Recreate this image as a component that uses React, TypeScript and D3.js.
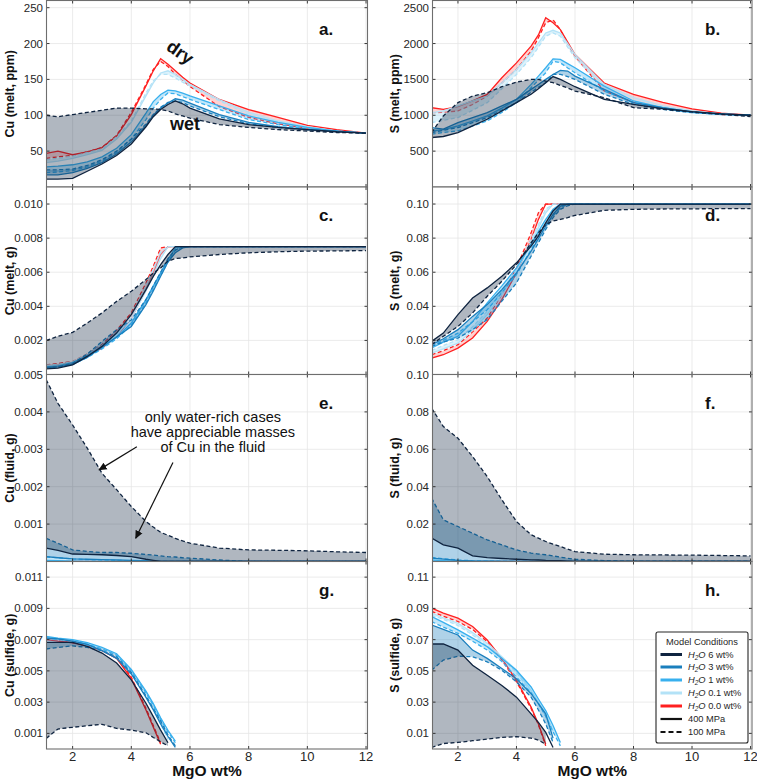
import React from 'react';
import * as d3 from 'd3';

// MgO (wt%) steps shared by the melt and fluid runs
const MGO = [1.1, 1.5, 2, 2.5, 3, 3.5, 4, 4.5, 4.75, 5, 5.25, 5.5, 5.75, 6, 7, 8, 9, 10, 11, 12];
// sulfide runs stop once the sulfide is used up
const MGO_SULF = [1.1, 1.5, 2, 2.5, 3, 3.5, 4, 4.5, 4.75, 5, 5.25, 5.5];

const X_TICKS = [2, 4, 6, 8, 10, 12];

// water contents, drawn dry first so the wet runs sit on top
const WATER = ['0.0', '0.1', '1', '3', '6'];
const LEGEND_WATER = ['6', '3', '1', '0.1', '0.0'];
const WATER_COLOR: Record<string, string> = {
  '6': '#0f2440',
  '3': '#1a7fbd',
  '1': '#38b0ee',
  '0.1': '#b3e2f7',
  '0.0': '#ff2020',
};
const WATER_FILL_OPACITY: Record<string, number> = { '6': 0.33, '3': 0.35, '1': 0.3, '0.1': 0.45, '0.0': 0.2 };

type Run = (number | null)[];
// each entry: [400 MPa, 100 MPa]
type Runs = Record<string, [Run, Run]>;

const CU_MELT_PPM: Runs = {
  '6': [
    [11, 11, 12, 22, 32, 44, 60, 84, 98, 108, 115, 120, 116, 110, 95, 87, 83, 80, 77, 75],
    [100, 98, 101, 104, 107, 110, 110, 109, 109, 108, 106, 102, 99, 96, 87, 83, 80, 78, 76, 75],
  ],
  '3': [
    [17, 17, 20, 26, 34, 46, 63, 86, 100, 110, 117, 123, 121, 117, 101, 90, 84, 80, 78, 75],
    [24, 24, 25, 30, 38, 50, 67, 88, 101, 111, 118, 120, 118, 113, 98, 88, 83, 80, 77, 75],
  ],
  '1': [
    [28, 29, 31, 35, 42, 54, 73, 103, 119, 129, 135, 134, 131, 127, 113, 99, 90, 83, 78, 75],
    [20, 21, 23, 28, 36, 48, 67, 94, 110, 122, 131, 130, 126, 122, 108, 94, 87, 81, 78, 75],
  ],
  '0.1': [
    [34, 36, 40, 45, 51, 67, 90, 127, 145, 159, 162, 157, 150, 143, 122, 104, 92, 84, 78, 75],
    [38, 40, 43, 48, 53, 70, 92, 131, 148, 157, 157, 152, 146, 141, 120, 101, 90, 83, 78, 75],
  ],
  '0.0': [
    [47, 50, 45, 49, 55, 71, 101, 141, 162, 179, 171, 162, 153, 145, 122, 108, 97, 86, 80, 75],
    [40, 42, 44, 49, 55, 72, 104, 143, 164, 175, 168, 157, 149, 140, 112, 97, 88, 82, 78, 75],
  ],
};

const S_MELT_PPM: Runs = {
  '6': [
    [690, 704, 759, 852, 944, 1060, 1176, 1292, 1370, 1454, 1540, 1500, 1450, 1398, 1222, 1153, 1093, 1051, 1020, 1000],
    [759, 991, 1176, 1268, 1315, 1398, 1463, 1500, 1500, 1477, 1454, 1417, 1380, 1338, 1245, 1106, 1083, 1046, 1014, 981],
  ],
  '3': [
    [829, 806, 898, 968, 1037, 1130, 1222, 1361, 1430, 1500, 1569, 1625, 1616, 1546, 1361, 1176, 1106, 1046, 1020, 1000],
    [759, 790, 829, 898, 968, 1070, 1176, 1320, 1390, 1454, 1569, 1569, 1540, 1500, 1292, 1153, 1083, 1037, 1014, 1000],
  ],
  '1': [
    [782, 800, 852, 920, 991, 1100, 1222, 1430, 1546, 1662, 1787, 1778, 1720, 1662, 1407, 1199, 1106, 1046, 1014, 1000],
    [736, 760, 782, 850, 921, 1040, 1176, 1384, 1490, 1593, 1755, 1731, 1660, 1593, 1338, 1176, 1090, 1037, 1010, 1000],
  ],
  '0.1': [
    [1037, 1060, 1130, 1200, 1268, 1454, 1639, 1870, 2010, 2148, 2185, 2148, 2000, 1847, 1430, 1245, 1130, 1060, 1020, 1000],
    [898, 930, 968, 1070, 1176, 1370, 1569, 1801, 1950, 2102, 2148, 2102, 1950, 1801, 1384, 1199, 1110, 1046, 1015, 1000],
  ],
  '0.0': [
    [1106, 1083, 1120, 1200, 1290, 1523, 1731, 1963, 2120, 2360, 2290, 2194, 2020, 1847, 1450, 1290, 1180, 1090, 1030, 1000],
    [1037, 1040, 1060, 1150, 1268, 1450, 1639, 1894, 2080, 2290, 2330, 2194, 2000, 1820, 1340, 1180, 1100, 1050, 1010, 1000],
  ],
};

const CU_MELT_G: Runs = {
  '6': [
    [0.00033, 0.00037, 0.00057, 0.00106, 0.00165, 0.00243, 0.00351, 0.00498, 0.00576, 0.00645, 0.00704, 0.0075, 0.0075, 0.0075, 0.0075, 0.0075, 0.0075, 0.0075, 0.0075, 0.0075],
    [0.002, 0.00224, 0.00247, 0.00302, 0.00361, 0.00429, 0.00488, 0.00557, 0.00596, 0.00625, 0.00665, 0.0068, 0.00684, 0.0069, 0.00704, 0.00714, 0.0072, 0.00724, 0.00725, 0.00727],
  ],
  '3': [
    [0.0004, 0.00045, 0.0006, 0.001, 0.0016, 0.0022, 0.00282, 0.0041, 0.0049, 0.00576, 0.0066, 0.00714, 0.00743, 0.0075, 0.0075, 0.0075, 0.0075, 0.0075, 0.0075, 0.0075],
    [0.0004, 0.00045, 0.00065, 0.0012, 0.00194, 0.00263, 0.0032, 0.0044, 0.0052, 0.006, 0.0068, 0.0073, 0.0075, 0.0075, 0.0075, 0.0075, 0.0075, 0.0075, 0.0075, 0.0075],
  ],
  '1': [
    [0.00045, 0.0005, 0.0007, 0.0011, 0.0016, 0.0022, 0.00302, 0.00439, 0.0052, 0.00596, 0.00675, 0.00743, 0.0075, 0.0075, 0.0075, 0.0075, 0.0075, 0.0075, 0.0075, 0.0075],
    [0.0004, 0.00045, 0.0006, 0.001, 0.0015, 0.0021, 0.0029, 0.0042, 0.005, 0.0058, 0.0066, 0.0073, 0.0075, 0.0075, 0.0075, 0.0075, 0.0075, 0.0075, 0.0075, 0.0075],
  ],
  '0.1': [
    [0.0005, 0.00055, 0.0007, 0.0011, 0.0016, 0.0023, 0.0033, 0.0049, 0.0058, 0.0068, 0.0075, 0.0075, 0.0075, 0.0075, 0.0075, 0.0075, 0.0075, 0.0075, 0.0075, 0.0075],
    [0.00055, 0.0006, 0.00075, 0.0012, 0.0017, 0.0024, 0.0035, 0.0052, 0.0062, 0.0072, 0.0075, 0.0075, 0.0075, 0.0075, 0.0075, 0.0075, 0.0075, 0.0075, 0.0075, 0.0075],
  ],
  '0.0': [
    [0.00047, 0.00055, 0.00067, 0.0011, 0.00155, 0.00224, 0.00331, 0.00498, 0.00596, 0.00704, 0.0075, 0.0075, 0.0075, 0.0075, 0.0075, 0.0075, 0.0075, 0.0075, 0.0075, 0.0075],
    [0.00057, 0.00065, 0.00076, 0.0012, 0.00175, 0.0026, 0.00361, 0.00537, 0.00635, 0.00743, 0.0075, 0.0075, 0.0075, 0.0075, 0.0075, 0.0075, 0.0075, 0.0075, 0.0075, 0.0075],
  ],
};

const S_MELT_G: Runs = {
  '6': [
    [0.0194, 0.0243, 0.0351, 0.0449, 0.0508, 0.0576, 0.0655, 0.0753, 0.0812, 0.089, 0.0959, 0.1, 0.1, 0.1, 0.1, 0.1, 0.1, 0.1, 0.1, 0.1],
    [0.0175, 0.0224, 0.0282, 0.0361, 0.0459, 0.0547, 0.0645, 0.0773, 0.0831, 0.088, 0.09, 0.091, 0.092, 0.0933, 0.0963, 0.0969, 0.0971, 0.0972, 0.0973, 0.0973],
  ],
  '3': [
    [0.0175, 0.021, 0.0263, 0.0341, 0.041, 0.0498, 0.0596, 0.0724, 0.0797, 0.087, 0.094, 0.0988, 0.1, 0.1, 0.1, 0.1, 0.1, 0.1, 0.1, 0.1],
    [0.0165, 0.019, 0.0214, 0.0263, 0.0322, 0.043, 0.0537, 0.0694, 0.0773, 0.0851, 0.092, 0.0969, 0.099, 0.1, 0.1, 0.1, 0.1, 0.1, 0.1, 0.1],
  ],
  '1': [
    [0.0155, 0.019, 0.0224, 0.031, 0.042, 0.052, 0.0625, 0.0763, 0.084, 0.091, 0.0969, 0.1, 0.1, 0.1, 0.1, 0.1, 0.1, 0.1, 0.1, 0.1],
    [0.0165, 0.02, 0.0243, 0.031, 0.038, 0.048, 0.0586, 0.0733, 0.081, 0.088, 0.093, 0.0978, 0.1, 0.1, 0.1, 0.1, 0.1, 0.1, 0.1, 0.1],
  ],
  '0.1': [
    [0.0125, 0.015, 0.0184, 0.026, 0.0351, 0.047, 0.0606, 0.0773, 0.086, 0.0949, 0.1, 0.1, 0.1, 0.1, 0.1, 0.1, 0.1, 0.1, 0.1, 0.1],
    [0.0141, 0.017, 0.0204, 0.028, 0.0371, 0.049, 0.0616, 0.0792, 0.088, 0.097, 0.1, 0.1, 0.1, 0.1, 0.1, 0.1, 0.1, 0.1, 0.1, 0.1],
  ],
  '0.0': [
    [0.0096, 0.0116, 0.0155, 0.0214, 0.0312, 0.0439, 0.0596, 0.0792, 0.091, 0.1, 0.1, 0.1, 0.1, 0.1, 0.1, 0.1, 0.1, 0.1, 0.1, 0.1],
    [0.0116, 0.014, 0.0175, 0.025, 0.0331, 0.047, 0.0625, 0.0831, 0.0949, 0.1, 0.1, 0.1, 0.1, 0.1, 0.1, 0.1, 0.1, 0.1, 0.1, 0.1],
  ],
};

const CU_FLUID_G: Runs = {
  '6': [
    [0.00036, 0.0003, 0.0002, 0.00019, 0.00018, 0.00016, 0.00013, 0.00006, 0.00003, 0, 0, 0, 0, 0, 0, 0, 0, 0, 0, 0],
    [0.00486, 0.00423, 0.00365, 0.00303, 0.00236, 0.00192, 0.00147, 0.00107, 0.00092, 0.00078, 0.0007, 0.00062, 0.00055, 0.00049, 0.00036, 0.00031, 0.0003, 0.000285, 0.00026, 0.00024],
  ],
  '3': [
    [0.00013, 0.0001, 0.00007, 0.00006, 0.00005, 0.00004, 0.00003, 0.00002, 0.00001, 0, 0, 0, 0, 0, 0, 0, 0, 0, 0, 0],
    [0.00062, 0.00049, 0.00031, 0.00027, 0.00024, 0.00024, 0.00022, 0.00019, 0.00017, 0.00015, 0.00013, 0.00012, 0.0001, 0.00009, 0.00004, 0, 0, 0, 0, 0],
  ],
  '1': [
    [0.00003, 0.00002, 0.00001, 0, 0, 0, 0, 0, 0, 0, 0, 0, 0, 0, 0, 0, 0, 0, 0, 0],
    [0.00012, 0.0001, 0.00007, 0.00005, 0.00004, 0.00003, 0.00002, 0.00001, 0, 0, 0, 0, 0, 0, 0, 0, 0, 0, 0, 0],
  ],
  '0.1': [
    [0, 0, 0, 0, 0, 0, 0, 0, 0, 0, 0, 0, 0, 0, 0, 0, 0, 0, 0, 0],
    [0, 0, 0, 0, 0, 0, 0, 0, 0, 0, 0, 0, 0, 0, 0, 0, 0, 0, 0, 0],
  ],
  '0.0': [
    [0, 0, 0, 0, 0, 0, 0, 0, 0, 0, 0, 0, 0, 0, 0, 0, 0, 0, 0, 0],
    [0, 0, 0, 0, 0, 0, 0, 0, 0, 0, 0, 0, 0, 0, 0, 0, 0, 0, 0, 0],
  ],
};

const S_FLUID_G: Runs = {
  '6': [
    [0.0125, 0.0089, 0.0071, 0.003, 0.0021, 0.0016, 0.0012, 0.0009, 0.0008, 0.0006, 0.0005, 0.0004, 0.0002, 0, 0, 0, 0, 0, 0, 0],
    [0.082, 0.0722, 0.0659, 0.0561, 0.0454, 0.033, 0.0214, 0.0143, 0.0125, 0.0107, 0.0093, 0.008, 0.0066, 0.0053, 0.0039, 0.0036, 0.0035, 0.0034, 0.0032, 0.003],
  ],
  '3': [
    [0.0018, 0.0013, 0.0006, 0.0003, 0.0002, 0.0001, 0, 0, 0, 0, 0, 0, 0, 0, 0, 0, 0, 0, 0, 0],
    [0.0339, 0.0223, 0.0187, 0.0151, 0.0116, 0.0089, 0.0062, 0.0045, 0.004, 0.0036, 0.003, 0.0023, 0.0017, 0.0012, 0.0005, 0, 0, 0, 0, 0],
  ],
  '1': [
    [0.0008, 0.0005, 0.0002, 0, 0, 0, 0, 0, 0, 0, 0, 0, 0, 0, 0, 0, 0, 0, 0, 0],
    [0.0022, 0.0015, 0.0008, 0.0004, 0.0002, 0.0001, 0, 0, 0, 0, 0, 0, 0, 0, 0, 0, 0, 0, 0, 0],
  ],
  '0.1': [
    [0, 0, 0, 0, 0, 0, 0, 0, 0, 0, 0, 0, 0, 0, 0, 0, 0, 0, 0, 0],
    [0, 0, 0, 0, 0, 0, 0, 0, 0, 0, 0, 0, 0, 0, 0, 0, 0, 0, 0, 0],
  ],
  '0.0': [
    [0, 0, 0, 0, 0, 0, 0, 0, 0, 0, 0, 0, 0, 0, 0, 0, 0, 0, 0, 0],
    [0, 0, 0, 0, 0, 0, 0, 0, 0, 0, 0, 0, 0, 0, 0, 0, 0, 0, 0, 0],
  ],
};

const CU_SULFIDE_G: Runs = {
  '6': [
    [0.00682, 0.00682, 0.00682, 0.00657, 0.00614, 0.0055, 0.00443, 0.00293, 0.00207, 0.00121, 0.0004, null],
    [0.00068, 0.00128, 0.00139, 0.00149, 0.00158, 0.00132, 0.00121, 0.00104, 0.00074, 0.00046, 0.0002, null],
  ],
  '3': [
    [0.0071, 0.00705, 0.0069, 0.0067, 0.0063, 0.0058, 0.0048, 0.0033, 0.0025, 0.0016, 0.0008, 0.0001],
    [0.0064, 0.0065, 0.0066, 0.0065, 0.0063, 0.0059, 0.0049, 0.0034, 0.0026, 0.0018, 0.0009, 0.0002],
  ],
  '1': [
    [0.0072, 0.0071, 0.007, 0.0068, 0.0065, 0.0061, 0.0051, 0.0037, 0.0029, 0.002, 0.0012, 0.0005],
    [0.0071, 0.00705, 0.0069, 0.0067, 0.0064, 0.006, 0.005, 0.0036, 0.0028, 0.0019, 0.0011, 0.0004],
  ],
  '0.1': [
    [0.0071, 0.00705, 0.0069, 0.0067, 0.0064, 0.006, 0.005, 0.0036, 0.0028, 0.0018, 0.0009, null],
    [0.00705, 0.007, 0.0069, 0.0066, 0.0063, 0.0059, 0.0049, 0.0035, 0.0026, 0.0016, 0.0006, null],
  ],
  '0.0': [
    [0.007, 0.0069, 0.0068, 0.0066, 0.0063, 0.0058, 0.0045, 0.0025, 0.0014, 0.0003, null, null],
    [0.00705, 0.00695, 0.0068, 0.0066, 0.0064, 0.006, 0.0046, 0.0026, 0.0015, 0.0004, null, null],
  ],
};

const S_SULFIDE_G: Runs = {
  '6': [
    [0.0672, 0.0672, 0.0633, 0.0536, 0.0472, 0.0407, 0.0332, 0.0225, 0.017, 0.0106, 0.001, null],
    [0.001, 0.0035, 0.0042, 0.0053, 0.0063, 0.0074, 0.0079, 0.007, 0.0057, 0.003, null, null],
  ],
  '3': [
    [0.0794, 0.0765, 0.073, 0.0633, 0.058, 0.0515, 0.045, 0.0354, 0.029, 0.0225, 0.007, null],
    [0.0504, 0.0569, 0.0594, 0.059, 0.0558, 0.0504, 0.0429, 0.0332, 0.025, 0.016, 0.0042, null],
  ],
  '1': [
    [0.0848, 0.081, 0.0762, 0.071, 0.0655, 0.058, 0.0504, 0.0397, 0.032, 0.0246, 0.015, 0.0042],
    [0.0816, 0.078, 0.074, 0.069, 0.0633, 0.056, 0.046, 0.036, 0.029, 0.021, 0.011, 0.002],
  ],
  '0.1': [
    [0.087, 0.084, 0.0805, 0.0745, 0.0676, 0.059, 0.0504, 0.0375, 0.03, 0.0225, 0.0117, null],
    [0.0855, 0.083, 0.079, 0.073, 0.066, 0.058, 0.049, 0.036, 0.029, 0.021, 0.01, null],
  ],
  '0.0': [
    [0.0902, 0.087, 0.0838, 0.0784, 0.0698, 0.058, 0.044, 0.0268, 0.016, 0.003, null, null],
    [0.0881, 0.085, 0.0816, 0.0765, 0.0687, 0.057, 0.043, 0.026, 0.0155, 0.002, null, null],
  ],
};

const CU_MELT_PPM_TICKS = [50, 100, 150, 200, 250];
const S_MELT_PPM_TICKS = [500, 1000, 1500, 2000, 2500];
const CU_MELT_G_TICKS = [0.002, 0.004, 0.006, 0.008, 0.01];
const S_MELT_G_TICKS = [0.02, 0.04, 0.06, 0.08, 0.1];
const CU_FLUID_G_TICKS = [0.001, 0.002, 0.003, 0.004, 0.005];
const S_FLUID_G_TICKS = [0.02, 0.04, 0.06, 0.08, 0.1];
const CU_SULFIDE_G_TICKS = [0.001, 0.003, 0.005, 0.007, 0.009, 0.011];
const S_SULFIDE_G_TICKS = [0.01, 0.03, 0.05, 0.07, 0.09, 0.11];

const ANNOTATION_LINES = ['only water-rich cases', 'have appreciable masses', 'of Cu in the fluid'];

// --- layout ---
const ROWS = [0.5, 187, 374.5, 561.5, 749];
const COLS = [
  { left: 46.5, right: 367.5, domain: [1.11, 12.05], titleX: 14 },
  { left: 432.5, right: 752, domain: [1.13, 12.05], titleX: 399 },
];
const FONT = '"Liberation Sans", Arial, Helvetica, sans-serif';
const INK = '#262626';

type PanelSpec = {
  id: string; col: number; row: number; xs: number[]; runs: Runs;
  yMax: number; ticks: number[]; fmt: string; title: string;
};

const PANELS: PanelSpec[] = [
  { id: 'a', col: 0, row: 0, xs: MGO, runs: CU_MELT_PPM, yMax: 260, ticks: CU_MELT_PPM_TICKS, fmt: 'd', title: 'Cu (melt, ppm)' },
  { id: 'b', col: 1, row: 0, xs: MGO, runs: S_MELT_PPM, yMax: 2600, ticks: S_MELT_PPM_TICKS, fmt: 'd', title: 'S (melt, ppm)' },
  { id: 'c', col: 0, row: 1, xs: MGO, runs: CU_MELT_G, yMax: 0.011, ticks: CU_MELT_G_TICKS, fmt: '.3f', title: 'Cu (melt, g)' },
  { id: 'd', col: 1, row: 1, xs: MGO, runs: S_MELT_G, yMax: 0.11, ticks: S_MELT_G_TICKS, fmt: '.2f', title: 'S (melt, g)' },
  { id: 'e', col: 0, row: 2, xs: MGO, runs: CU_FLUID_G, yMax: 0.005, ticks: CU_FLUID_G_TICKS, fmt: '.3f', title: 'Cu (fluid, g)' },
  { id: 'f', col: 1, row: 2, xs: MGO, runs: S_FLUID_G, yMax: 0.1, ticks: S_FLUID_G_TICKS, fmt: '.2f', title: 'S (fluid, g)' },
  { id: 'g', col: 0, row: 3, xs: MGO_SULF, runs: CU_SULFIDE_G, yMax: 0.012, ticks: CU_SULFIDE_G_TICKS, fmt: '.3f', title: 'Cu (sulfide, g)' },
  { id: 'h', col: 1, row: 3, xs: MGO_SULF, runs: S_SULFIDE_G, yMax: 0.12, ticks: S_SULFIDE_G_TICKS, fmt: '.2f', title: 'S (sulfide, g)' },
];

function scalesFor(p: PanelSpec) {
  const c = COLS[p.col];
  const x = d3.scaleLinear().domain(c.domain).range([c.left, c.right]);
  const y = d3.scaleLinear().domain([0, p.yMax]).range([ROWS[p.row + 1], ROWS[p.row]]);
  return { x, y };
}

type Pt = { x: number; hi: number | null; lo: number | null };

function Panel({ p }: { p: PanelSpec }) {
  const { x, y } = scalesFor(p);
  const [x0, x1] = x.range();
  const [y1, y0] = y.range();
  const fmt = d3.format(p.fmt);
  const clipId = `clip-${p.id}`;
  const tickLen = 3;

  const series = WATER.map((w) => {
    const [p400, p100] = p.runs[w];
    const pts: Pt[] = p.xs.map((v, i) => ({ x: v, hi: p400[i], lo: p100[i] }));
    const area = d3.area<Pt>()
      .defined((d) => d.hi != null && d.lo != null)
      .x((d) => x(d.x)).y0((d) => y(d.hi as number)).y1((d) => y(d.lo as number));
    const solid = d3.line<Pt>().defined((d) => d.hi != null).x((d) => x(d.x)).y((d) => y(d.hi as number));
    const dashed = d3.line<Pt>().defined((d) => d.lo != null).x((d) => x(d.x)).y((d) => y(d.lo as number));
    return (
      <g key={w}>
        <path d={area(pts) || ''} fill={WATER_COLOR[w]} fillOpacity={WATER_FILL_OPACITY[w]} stroke="none" />
        <path d={dashed(pts) || ''} fill="none" stroke={WATER_COLOR[w]} strokeWidth={1.3} strokeDasharray="4 2.5" />
        <path d={solid(pts) || ''} fill="none" stroke={WATER_COLOR[w]} strokeWidth={1.3} />
      </g>
    );
  });

  const letterX = p.col === 0 ? 319 : 705;
  const titleX = COLS[p.col].titleX;
  const bottom = p.row === 3;

  return (
    <g fontFamily={FONT}>
      <clipPath id={clipId}><rect x={x0} y={y0} width={x1 - x0} height={y1 - y0} /></clipPath>
      <rect x={x0} y={y0} width={x1 - x0} height={y1 - y0} fill="#fff" />
      {X_TICKS.map((t) => (
        <line key={`gx${t}`} x1={x(t)} x2={x(t)} y1={y0} y2={y1} stroke="#e6e6e6" strokeWidth={0.8} />
      ))}
      {p.ticks.map((t) => (
        <line key={`gy${t}`} x1={x0} x2={x1} y1={y(t)} y2={y(t)} stroke="#e6e6e6" strokeWidth={0.8} />
      ))}
      <g clipPath={`url(#${clipId})`}>{series}</g>
      {/* inward ticks on all four sides */}
      {X_TICKS.map((t) => (
        <g key={`tx${t}`} stroke={INK} strokeWidth={0.9}>
          <line x1={x(t)} x2={x(t)} y1={y1} y2={y1 - tickLen} />
          <line x1={x(t)} x2={x(t)} y1={y0} y2={y0 + tickLen} />
        </g>
      ))}
      {p.ticks.map((t) => (
        <g key={`ty${t}`} stroke={INK} strokeWidth={0.9}>
          <line x1={x0} x2={x0 + tickLen} y1={y(t)} y2={y(t)} />
          <line x1={x1} x2={x1 - tickLen} y1={y(t)} y2={y(t)} />
        </g>
      ))}
      <rect x={x0} y={y0} width={x1 - x0} height={y1 - y0} fill="none" stroke="#6e6e6e" strokeWidth={1.1} />
      {p.ticks.map((t) => (
        <text key={`ly${t}`} x={x0 - 3.5} y={y(t) + 4} textAnchor="end" fontSize={11.5} fill={INK}>{fmt(t)}</text>
      ))}
      <text
        transform={`translate(${titleX},${(y0 + y1) / 2}) rotate(-90)`}
        textAnchor="middle" fontSize={12.5} fontWeight="bold" fill="#111"
      >{p.title}</text>
      <text x={letterX} y={y0 + 34} fontSize={17} fontWeight="bold" fill="#111">{p.id}.</text>
      {bottom && (
        <g>
          {X_TICKS.map((t) => (
            <text key={`lx${t}`} x={x(t)} y={y1 + 11.5} textAnchor="middle" fontSize={13} fill={INK}>{t}</text>
          ))}
          <text x={(x0 + x1) / 2} y={776} textAnchor="middle" fontSize={15.5} fontWeight="bold" fill="#111">MgO wt%</text>
        </g>
      )}
    </g>
  );
}

function Legend() {
  const left = 656, top = 632, w = 92, h = 111;
  const rowY = [654.5, 667, 680, 693, 706, 719, 732];
  const lx0 = 660.5, lx1 = 682, tx = 688;
  return (
    <g fontFamily={FONT} fontSize={9.3} fill={INK}>
      <rect x={left} y={top} width={w} height={h} fill="#fff" stroke={INK} strokeWidth={1.1} rx={2} />
      <text x={left + w / 2} y={645} textAnchor="middle">Model Conditions</text>
      {LEGEND_WATER.map((wc, i) => (
        <g key={wc}>
          <line x1={lx0} x2={lx1} y1={rowY[i]} y2={rowY[i]} stroke={WATER_COLOR[wc]} strokeWidth={3} />
          <text x={tx} y={rowY[i] + 3.3}>
            <tspan fontStyle="italic">H</tspan>
            <tspan fontStyle="italic" fontSize={6.5} dy={2}>2</tspan>
            <tspan fontStyle="italic" dy={-2}>O</tspan>
            <tspan>{` ${wc} wt%`}</tspan>
          </text>
        </g>
      ))}
      <line x1={lx0} x2={lx1} y1={rowY[5]} y2={rowY[5]} stroke="#111" strokeWidth={2.2} />
      <text x={tx} y={rowY[5] + 3.3}>400 MPa</text>
      <line x1={lx0} x2={lx1} y1={rowY[6]} y2={rowY[6]} stroke="#111" strokeWidth={2.2} strokeDasharray="5 3" />
      <text x={tx} y={rowY[6] + 3.3}>100 MPa</text>
    </g>
  );
}

export default function App() {
  const a = scalesFor(PANELS[0]);
  const e = scalesFor(PANELS[4]);
  return (
    <svg width={757} height={780} style={{ position: 'absolute', left: 0, top: 0, background: '#fff' }}>
      <defs>
        <marker id="arrowHead" viewBox="0 0 10 10" refX={9} refY={5} markerWidth={7} markerHeight={7} orient="auto">
          <path d="M0,0.5 L10,5 L0,9.5 z" fill="#111" />
        </marker>
      </defs>
      <rect width={757} height={780} fill="#fff" />
      {PANELS.map((p) => <Panel key={p.id} p={p} />)}

      {/* dry / wet labels on the Cu melt panel */}
      <text
        transform={`translate(${a.x(5.55)},${a.y(181)}) rotate(35)`}
        textAnchor="middle" fontFamily={FONT} fontSize={18} fontWeight="bold" fill="#111"
      >dry</text>
      <text x={a.x(5.83)} y={a.y(80)} textAnchor="middle" fontFamily={FONT} fontSize={18} fontWeight="bold" fill="#111">wet</text>

      {/* fluid note with arrows */}
      <g fontFamily={FONT} fontSize={14.5} fill="#111" textAnchor="middle">
        {ANNOTATION_LINES.map((s, i) => (
          <text key={s} x={e.x(6.78)} y={422 + i * 15}>{s}</text>
        ))}
      </g>
      <line x1={e.x(4.19)} y1={e.y(0.00307)} x2={e.x(2.9)} y2={e.y(0.00245)} stroke="#111" strokeWidth={1.2} markerEnd="url(#arrowHead)" />
      <line x1={e.x(5.42)} y1={e.y(0.00265)} x2={e.x(4.15)} y2={e.y(0.00062)} stroke="#111" strokeWidth={1.2} markerEnd="url(#arrowHead)" />

      <Legend />
    </svg>
  );
}
